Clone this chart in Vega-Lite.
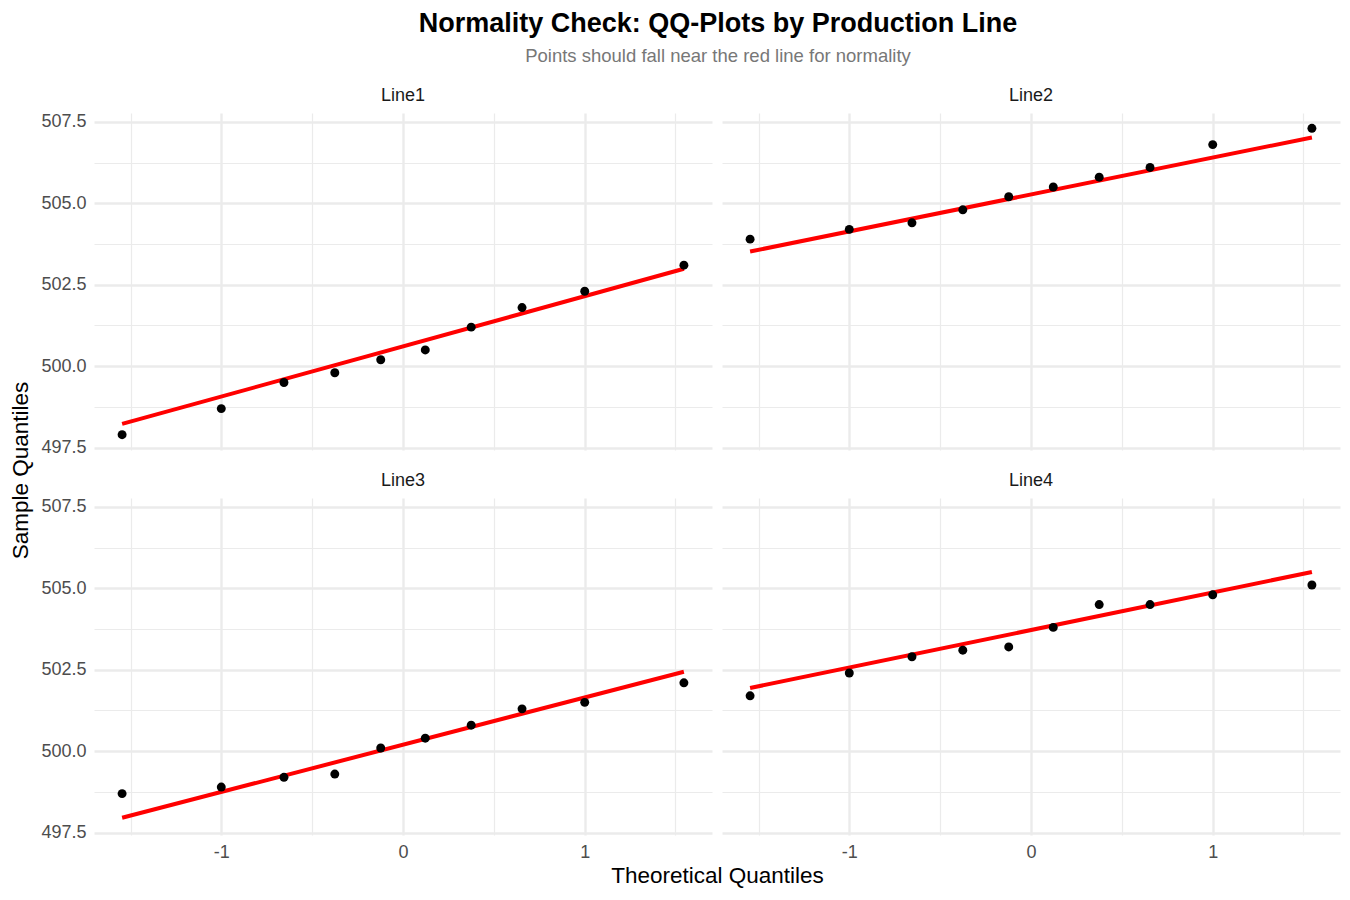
{
  "$schema": "https://vega.github.io/schema/vega-lite/v6.json",
  "padding": {"left": 9, "top": 10, "right": 9, "bottom": 5},
  "background": "white",
  "title": {
    "text": "Normality Check: QQ-Plots by Production Line",
    "subtitle": "Points should fall near the red line for normality",
    "anchor": "middle",
    "dx": 43,
    "fontSize": 27,
    "fontWeight": "bold",
    "color": "#000000",
    "subtitleFontSize": 18.5,
    "subtitleColor": "#777777",
    "subtitleFont": "Liberation Sans",
    "subtitlePadding": 9,
    "offset": 20
  },
  "datasets": {
    "qq": [
      {"panel": "Line1", "kind": "point", "x": -1.5466, "y": 497.9},
      {"panel": "Line1", "kind": "point", "x": -1.0005, "y": 498.7},
      {"panel": "Line1", "kind": "point", "x": -0.6554, "y": 499.5},
      {"panel": "Line1", "kind": "point", "x": -0.3755, "y": 499.8},
      {"panel": "Line1", "kind": "point", "x": -0.1226, "y": 500.2},
      {"panel": "Line1", "kind": "point", "x": 0.1226, "y": 500.5},
      {"panel": "Line1", "kind": "point", "x": 0.3755, "y": 501.2},
      {"panel": "Line1", "kind": "point", "x": 0.6554, "y": 501.8},
      {"panel": "Line1", "kind": "point", "x": 1.0005, "y": 502.3},
      {"panel": "Line1", "kind": "point", "x": 1.5466, "y": 503.1},
      {"panel": "Line1", "kind": "line", "x": -1.5466, "y": 498.23},
      {"panel": "Line1", "kind": "line", "x": 1.5466, "y": 502.99},
      {"panel": "Line2", "kind": "point", "x": -1.5466, "y": 503.9},
      {"panel": "Line2", "kind": "point", "x": -1.0005, "y": 504.2},
      {"panel": "Line2", "kind": "point", "x": -0.6554, "y": 504.4},
      {"panel": "Line2", "kind": "point", "x": -0.3755, "y": 504.8},
      {"panel": "Line2", "kind": "point", "x": -0.1226, "y": 505.2},
      {"panel": "Line2", "kind": "point", "x": 0.1226, "y": 505.5},
      {"panel": "Line2", "kind": "point", "x": 0.3755, "y": 505.8},
      {"panel": "Line2", "kind": "point", "x": 0.6554, "y": 506.1},
      {"panel": "Line2", "kind": "point", "x": 1.0005, "y": 506.8},
      {"panel": "Line2", "kind": "point", "x": 1.5466, "y": 507.3},
      {"panel": "Line2", "kind": "line", "x": -1.5466, "y": 503.52},
      {"panel": "Line2", "kind": "line", "x": 1.5466, "y": 507.02},
      {"panel": "Line3", "kind": "point", "x": -1.5466, "y": 498.7},
      {"panel": "Line3", "kind": "point", "x": -1.0005, "y": 498.9},
      {"panel": "Line3", "kind": "point", "x": -0.6554, "y": 499.2},
      {"panel": "Line3", "kind": "point", "x": -0.3755, "y": 499.3},
      {"panel": "Line3", "kind": "point", "x": -0.1226, "y": 500.1},
      {"panel": "Line3", "kind": "point", "x": 0.1226, "y": 500.4},
      {"panel": "Line3", "kind": "point", "x": 0.3755, "y": 500.8},
      {"panel": "Line3", "kind": "point", "x": 0.6554, "y": 501.3},
      {"panel": "Line3", "kind": "point", "x": 1.0005, "y": 501.5},
      {"panel": "Line3", "kind": "point", "x": 1.5466, "y": 502.1},
      {"panel": "Line3", "kind": "line", "x": -1.5466, "y": 497.96},
      {"panel": "Line3", "kind": "line", "x": 1.5466, "y": 502.44},
      {"panel": "Line4", "kind": "point", "x": -1.5466, "y": 501.7},
      {"panel": "Line4", "kind": "point", "x": -1.0005, "y": 502.4},
      {"panel": "Line4", "kind": "point", "x": -0.6554, "y": 502.9},
      {"panel": "Line4", "kind": "point", "x": -0.3755, "y": 503.1},
      {"panel": "Line4", "kind": "point", "x": -0.1226, "y": 503.2},
      {"panel": "Line4", "kind": "point", "x": 0.1226, "y": 503.8},
      {"panel": "Line4", "kind": "point", "x": 0.3755, "y": 504.5},
      {"panel": "Line4", "kind": "point", "x": 0.6554, "y": 504.5},
      {"panel": "Line4", "kind": "point", "x": 1.0005, "y": 504.8},
      {"panel": "Line4", "kind": "point", "x": 1.5466, "y": 505.1},
      {"panel": "Line4", "kind": "line", "x": -1.5466, "y": 501.94},
      {"panel": "Line4", "kind": "line", "x": 1.5466, "y": 505.5}
    ]
  },
  "columns": 2,
  "spacing": {"row": 48, "column": 10},
  "bounds": "flush",
  "concat": [
    {
      "title": "Line1",
      "width": 618, "height": 337,
      "data": {"name": "qq"},
      "transform": [{"filter": "datum.panel === 'Line1'"}],
      "encoding": {
        "x": {"field": "x", "type": "quantitative", "scale": {"domain": [-1.7013, 1.7013], "nice": false, "zero": false},
          "axis": {"values": [-1.5, -1, -0.5, 0, 0.5, 1, 1.5], "labels": false, "title": null,
            "gridWidth": {"condition": {"test": "datum.value % 1 === 0", "value": 2.4}, "value": 1.2}}},
        "y": {"field": "y", "type": "quantitative", "scale": {"domain": [497.43, 507.77], "nice": false, "zero": false},
          "axis": {"values": [497.5, 498.75, 500, 501.25, 502.5, 503.75, 505, 506.25, 507.5],
            "labelExpr": "(datum.value - 497.5) % 2.5 === 0 ? format(datum.value, '.1f') : ''",
            "title": "Sample Quantiles", "titleY": 357, "titlePadding": 8,
            "gridWidth": {"condition": {"test": "(datum.value - 497.5) % 2.5 === 0", "value": 2.4}, "value": 1.2}}}
      },
      "layer": [
        {"transform": [{"filter": "datum.kind === 'line'"}], "mark": {"type": "line", "color": "#ff0000", "strokeWidth": 4}},
        {"transform": [{"filter": "datum.kind === 'point'"}], "mark": {"type": "point", "filled": true, "color": "#000000", "opacity": 1, "size": 80}}
      ]
    },
    {
      "title": "Line2",
      "width": 618, "height": 337,
      "data": {"name": "qq"},
      "transform": [{"filter": "datum.panel === 'Line2'"}],
      "encoding": {
        "x": {"field": "x", "type": "quantitative", "scale": {"domain": [-1.7013, 1.7013], "nice": false, "zero": false},
          "axis": {"values": [-1.5, -1, -0.5, 0, 0.5, 1, 1.5], "labels": false, "title": null,
            "gridWidth": {"condition": {"test": "datum.value % 1 === 0", "value": 2.4}, "value": 1.2}}},
        "y": {"field": "y", "type": "quantitative", "scale": {"domain": [497.43, 507.77], "nice": false, "zero": false},
          "axis": {"values": [497.5, 498.75, 500, 501.25, 502.5, 503.75, 505, 506.25, 507.5], "labels": false, "title": null,
            "gridWidth": {"condition": {"test": "(datum.value - 497.5) % 2.5 === 0", "value": 2.4}, "value": 1.2}}}
      },
      "layer": [
        {"transform": [{"filter": "datum.kind === 'line'"}], "mark": {"type": "line", "color": "#ff0000", "strokeWidth": 4}},
        {"transform": [{"filter": "datum.kind === 'point'"}], "mark": {"type": "point", "filled": true, "color": "#000000", "opacity": 1, "size": 80}}
      ]
    },
    {
      "title": "Line3",
      "width": 618, "height": 337,
      "data": {"name": "qq"},
      "transform": [{"filter": "datum.panel === 'Line3'"}],
      "encoding": {
        "x": {"field": "x", "type": "quantitative", "scale": {"domain": [-1.7013, 1.7013], "nice": false, "zero": false},
          "axis": {"values": [-1.5, -1, -0.5, 0, 0.5, 1, 1.5],
            "labelExpr": "datum.value % 1 === 0 ? '' + datum.value : ''",
            "title": "Theoretical Quantiles", "titleX": 623, "titlePadding": 3,
            "gridWidth": {"condition": {"test": "datum.value % 1 === 0", "value": 2.4}, "value": 1.2}}},
        "y": {"field": "y", "type": "quantitative", "scale": {"domain": [497.43, 507.77], "nice": false, "zero": false},
          "axis": {"values": [497.5, 498.75, 500, 501.25, 502.5, 503.75, 505, 506.25, 507.5],
            "labelExpr": "(datum.value - 497.5) % 2.5 === 0 ? format(datum.value, '.1f') : ''",
            "title": null,
            "gridWidth": {"condition": {"test": "(datum.value - 497.5) % 2.5 === 0", "value": 2.4}, "value": 1.2}}}
      },
      "layer": [
        {"transform": [{"filter": "datum.kind === 'line'"}], "mark": {"type": "line", "color": "#ff0000", "strokeWidth": 4}},
        {"transform": [{"filter": "datum.kind === 'point'"}], "mark": {"type": "point", "filled": true, "color": "#000000", "opacity": 1, "size": 80}}
      ]
    },
    {
      "title": "Line4",
      "width": 618, "height": 337,
      "data": {"name": "qq"},
      "transform": [{"filter": "datum.panel === 'Line4'"}],
      "encoding": {
        "x": {"field": "x", "type": "quantitative", "scale": {"domain": [-1.7013, 1.7013], "nice": false, "zero": false},
          "axis": {"values": [-1.5, -1, -0.5, 0, 0.5, 1, 1.5],
            "labelExpr": "datum.value % 1 === 0 ? '' + datum.value : ''",
            "title": null,
            "gridWidth": {"condition": {"test": "datum.value % 1 === 0", "value": 2.4}, "value": 1.2}}},
        "y": {"field": "y", "type": "quantitative", "scale": {"domain": [497.43, 507.77], "nice": false, "zero": false},
          "axis": {"values": [497.5, 498.75, 500, 501.25, 502.5, 503.75, 505, 506.25, 507.5], "labels": false, "title": null,
            "gridWidth": {"condition": {"test": "(datum.value - 497.5) % 2.5 === 0", "value": 2.4}, "value": 1.2}}}
      },
      "layer": [
        {"transform": [{"filter": "datum.kind === 'line'"}], "mark": {"type": "line", "color": "#ff0000", "strokeWidth": 4}},
        {"transform": [{"filter": "datum.kind === 'point'"}], "mark": {"type": "point", "filled": true, "color": "#000000", "opacity": 1, "size": 80}}
      ]
    }
  ],
  "config": {
    "font": "Liberation Sans",
    "view": {"stroke": null},
    "title": {"fontSize": 18, "fontWeight": "normal", "color": "#1a1a1a", "font": "Liberation Sans", "offset": 8, "anchor": "middle"},
    "axis": {
      "grid": true,
      "gridColor": "#ebebeb",
      "ticks": false,
      "domain": false,
      "labelFont": "Liberation Sans",
      "labelFontSize": 18,
      "labelColor": "#4d4d4d",
      "labelOverlap": false,
      "labelPadding": 8,
      "titleFont": "Liberation Sans",
      "titleFontSize": 22.5,
      "titleFontWeight": "normal",
      "titleColor": "#000000",
      "titlePadding": 6,
      "minExtent": 0
    }
  }
}
